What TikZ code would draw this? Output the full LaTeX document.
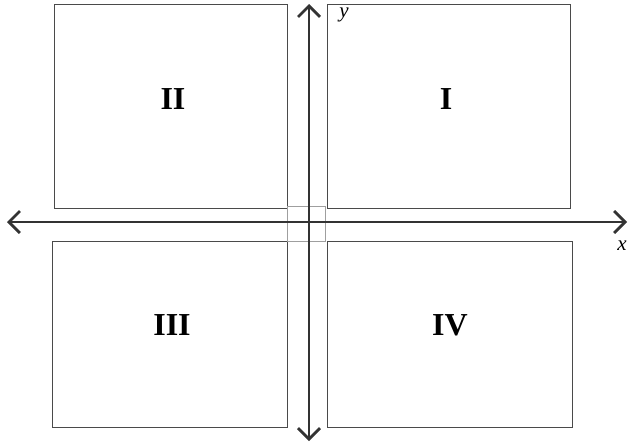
\documentclass[tikz,border=0pt]{standalone}
\usepackage{fontspec}
\setmainfont{Liberation Serif}
\usetikzlibrary{arrows.meta}
\definecolor{axisgray}{HTML}{333333}
\definecolor{boxgray}{HTML}{4A4A4A}
\tikzset{
  quadbox/.style={draw=boxgray, line width=1pt, inner sep=0pt, fill=none},
  quadlabel/.style={font=\fontsize{32}{35}\selectfont\bfseries, text=black, inner sep=0pt},
  axislabel/.style={font=\fontsize{21}{23}\selectfont\itshape, text=black, inner sep=0pt, anchor=base},
  axisline/.style={draw=axisgray, line width=2.8pt, {Straight Barb[length=11pt,width=22pt,line width=2.8pt]}-{Straight Barb[length=11pt,width=22pt,line width=2.8pt]}},
  centerbox/.style={draw=gray!75, line width=0.8pt}
}
\begin{document}
\begin{tikzpicture}[x=1pt,y=-1pt]
\useasboundingbox (0,0) rectangle (631,447);
% quadrant boxes
\node[quadbox, minimum width=233pt, minimum height=204pt] (boxII) at (170.5,106) {};
\node[quadbox, minimum width=243pt, minimum height=204pt] (boxI) at (448.5,106) {};
\node[quadbox, minimum width=235pt, minimum height=186pt] (boxIII) at (169.5,334) {};
\node[quadbox, minimum width=245pt, minimum height=186pt] (boxIV) at (449.5,334) {};
% centre square
\node[centerbox, inner sep=0pt, minimum width=38pt, minimum height=35pt] (centre) at (306,223.5) {};
% labels
\node[quadlabel] (lII) at (173,99) {II};
\node[quadlabel] (lI) at (446,99) {I};
\node[quadlabel] (lIII) at (172,325) {III};
\node[quadlabel] (lIV) at (450,325) {IV};
% axes
\coordinate (xl) at (7,222);
\coordinate (xr) at (627,222);
\coordinate (yt) at (309,4);
\coordinate (yb) at (309,441);
\draw[axisline] (xl) -- (xr);
\draw[axisline] (yb) -- (yt);
\node[axislabel] (ylab) at (344,17.5) {y};
\node[axislabel] (xlab) at (622,250) {x};
\end{tikzpicture}
\end{document}
